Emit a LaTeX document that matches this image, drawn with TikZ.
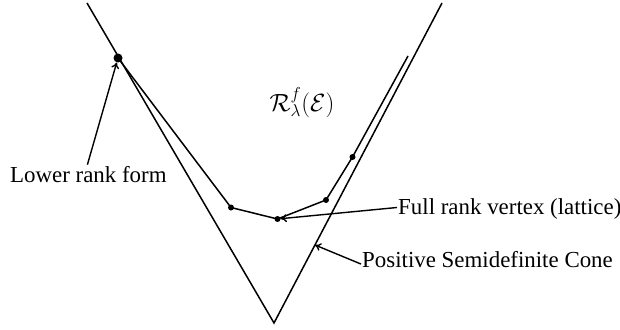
\documentclass[tikz,border=0pt]{standalone}
\usepackage{fontspec}
\setmainfont{Liberation Serif}
\usetikzlibrary{arrows.meta}
\begin{document}
\begin{tikzpicture}[x=1pt,y=-1pt,
  ln/.style={line width=1.5pt},
  arr/.style={line width=1.4pt,-{To[length=6pt,width=8pt]}},
  dotn/.style={circle,fill=black,inner sep=0pt,minimum size=6pt},
  bigdot/.style={circle,fill=black,inner sep=0pt,minimum size=9pt},
  lbl/.style={font=\fontsize{22.9pt}{26pt}\selectfont,inner sep=1pt}]
\useasboundingbox (0,0) rectangle (620,329);
% cone
\coordinate (ctl) at (87,3);
\coordinate (apex) at (274,323);
\coordinate (ctr) at (442,3);
\draw[ln] (ctl) -- (apex) -- (ctr);
% inner polyline
\node[bigdot] (d0) at (118,58) {};
\node[dotn] (d1) at (231,207.5) {};
\node[dotn] (d2) at (277.5,219) {};
\node[dotn] (d3) at (326,200) {};
\node[dotn] (d4) at (352.5,157) {};
\coordinate (d5) at (408,56);
\draw[ln] (d0.center) -- (d1.center) -- (d2.center) -- (d3.center) -- (d4.center) -- (d5);
% region label
\node[font=\fontsize{23.5pt}{27pt}\selectfont] (reg) at (302,103) {$\mathcal{R}^f_\lambda(\mathcal{E})$};
% labels
\node[lbl,anchor=base west] (lrf) at (9,182) {Lower rank form};
\node[lbl,anchor=base west] (full) at (397,214) {Full rank vertex (lattice)};
\node[lbl,anchor=base west] (psd) at (361,267) {Positive Semidefinite Cone};
\coordinate (cp) at (315,245);
% arrows
\draw[arr] ([xshift=-1pt]lrf.north) -- (d0);
\draw[arr] ([yshift=1pt]full.west) -- (d2);
\draw[arr] ([yshift=-5pt]psd.west) -- (cp);
\end{tikzpicture}
\end{document}
